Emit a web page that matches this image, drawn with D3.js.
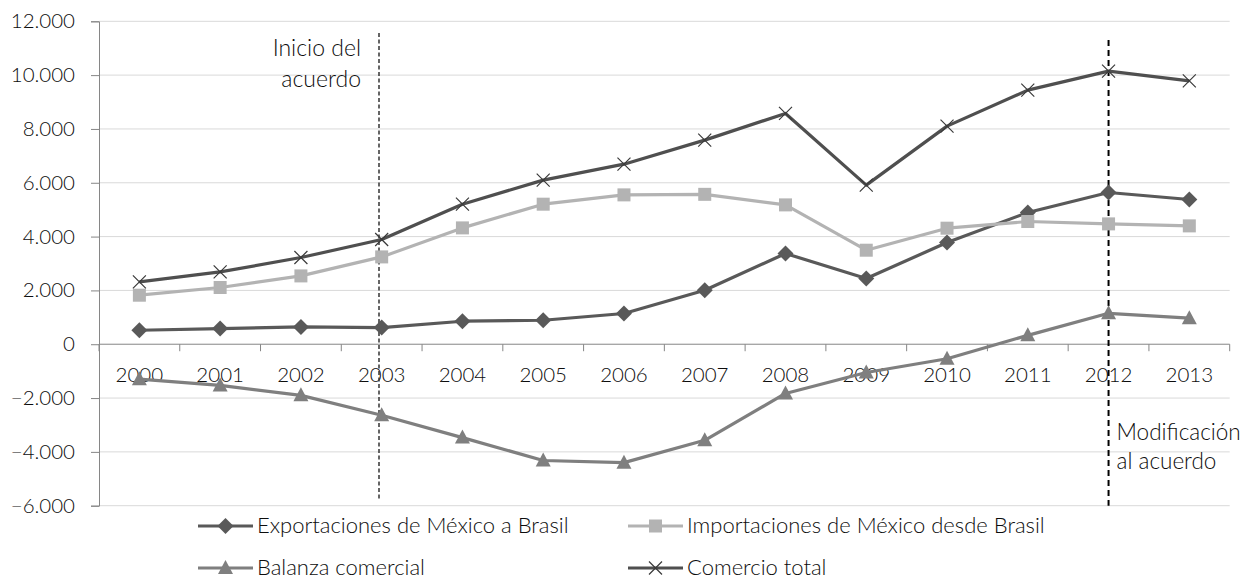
<!DOCTYPE html>
<html><head><meta charset="utf-8">
<script src="https://cdn.jsdelivr.net/npm/d3@7"></script>
<style>
html,body{margin:0;padding:0;background:#fff;}
svg text{font-family:"Lato","Open Sans",sans-serif;font-weight:300;fill:#0d0d0d;}
</style></head>
<body><svg id="c" width="1242" height="581"></svg>
<script>
const years = ["2000","2001","2002","2003","2004","2005","2006","2007","2008","2009","2010","2011","2012","2013"];
const exportaciones = [520,583,643,620,855,892,1141,2007,3372,2442,3780,4895,5639,5379];
const importaciones = [1822,2108,2539,3245,4323,5204,5550,5570,5178,3494,4312,4560,4472,4398];
const balanza = [-1300,-1530,-1900,-2640,-3470,-4320,-4400,-3570,-1830,-1050,-540,330,1150,970];
const comercioTotal = [2316,2688,3222,3892,5204,6097,6691,7584,8576,5911,8104,9442,10149,9788];
const yTicks = [-6000,-4000,-2000,0,2000,4000,6000,8000,10000,12000];
const seriesNames = ["Exportaciones de México a Brasil","Importaciones de México desde Brasil","Balanza comercial","Comercio total"];

const svg = d3.select("#c");
const L = 99, R = 1229.7, T = 21.3, B = 505.7;
const x = d3.scaleBand().domain(years).range([L, R]);
const y = d3.scaleLinear().domain([-6000, 12000]).range([B, T]);
const fmt = v => v === 0 ? "0" : d3.format(",")(v).replace(/,/g, ".");

// gridlines
svg.append("g").selectAll("line").data(yTicks.filter(v => v !== 0)).join("line")
  .attr("x1", L).attr("x2", R).attr("y1", d => y(d)).attr("y2", d => y(d))
  .attr("stroke", "#d9d9d9").attr("stroke-width", 1);

// y axis
const yAxis = d3.axisLeft(y).tickValues(yTicks).tickSize(8).tickPadding(16).tickFormat(fmt);
const gy = svg.append("g").attr("transform", `translate(${L},0)`).call(yAxis);
gy.select(".domain").attr("stroke", "#868686");
gy.selectAll(".tick line").attr("stroke", "#868686");
gy.selectAll(".tick text").attr("font-size", 20.5).style("font-family", "Lato, 'Open Sans', sans-serif")
  .style("font-weight", 300).attr("fill", "#0d0d0d");

// x axis at zero
const x0 = y(0);
svg.append("line").attr("x1", L).attr("x2", R).attr("y1", x0).attr("y2", x0).attr("stroke", "#868686");
const bounds = years.map(d => x(d)).concat([R]);
svg.append("g").selectAll("line").data(bounds).join("line")
  .attr("x1", d => d).attr("x2", d => d).attr("y1", x0).attr("y2", x0 + 7).attr("stroke", "#868686");
svg.append("g").selectAll("text").data(years).join("text")
  .attr("x", d => x(d) + x.bandwidth() / 2).attr("y", x0 + 38)
  .attr("text-anchor", "middle").attr("font-size", 20.5).text(d => d);

// vertical reference lines
svg.append("line").attr("x1", 379).attr("x2", 379).attr("y1", 33).attr("y2", 500)
  .attr("stroke", "#333").attr("stroke-width", 1.5).attr("stroke-dasharray", "4,2.5");
const x2012 = x("2012") + x.bandwidth() / 2;
svg.append("line").attr("x1", x2012).attr("x2", x2012).attr("y1", 40).attr("y2", B)
  .attr("stroke", "#000").attr("stroke-width", 2).attr("stroke-dasharray", "6,4");

// annotations
svg.append("text").attr("x", 361).attr("y", 56).attr("text-anchor", "end").attr("font-size", 23).text("Inicio del");
svg.append("text").attr("x", 361).attr("y", 87).attr("text-anchor", "end").attr("font-size", 23).text("acuerdo");
svg.append("text").attr("x", x2012 + 8).attr("y", 440).attr("font-size", 22.5).text("Modificación");
svg.append("text").attr("x", x2012 + 8).attr("y", 469).attr("font-size", 22.5).text("al acuerdo");

const series = [
  {name: seriesNames[0], values: exportaciones, color: "#595959", marker: "diamond"},
  {name: seriesNames[1], values: importaciones, color: "#b3b3b3", marker: "square"},
  {name: seriesNames[2], values: balanza, color: "#7f7f7f", marker: "triangle"},
  {name: seriesNames[3], values: comercioTotal, color: "#4f4f4f", marker: "x"}
];

function drawMarker(g, type, color, cx, cy) {
  if (type === "diamond") {
    g.append("path").attr("d", `M${cx},${cy-8}L${cx+8},${cy}L${cx},${cy+8}L${cx-8},${cy}Z`).attr("fill", color);
  } else if (type === "square") {
    g.append("rect").attr("x", cx-6.5).attr("y", cy-6.5).attr("width", 13).attr("height", 13).attr("fill", color);
  } else if (type === "triangle") {
    g.append("path").attr("d", `M${cx},${cy-8}L${cx+7.5},${cy+6}L${cx-7.5},${cy+6}Z`).attr("fill", color);
  } else {
    g.append("path").attr("d", `M${cx-6.5},${cy-6.5}L${cx+6.5},${cy+6.5}M${cx-6.5},${cy+6.5}L${cx+6.5},${cy-6.5}`)
      .attr("stroke", "#3a3a3a").attr("stroke-width", 1.2).attr("fill", "none");
  }
}

const line = d3.line().x((d, i) => x(years[i]) + x.bandwidth() / 2).y(d => y(d));
series.forEach(s => {
  const g = svg.append("g");
  g.append("path").datum(s.values).attr("d", line).attr("fill", "none")
    .attr("stroke", s.color).attr("stroke-width", 3.2).attr("stroke-linejoin", "round");
  s.values.forEach((v, i) => drawMarker(g, s.marker, s.color, x(years[i]) + x.bandwidth() / 2, y(v)));
});

// legend
const legendPos = [[198, 526], [628, 526], [198, 568], [628, 568]];
series.forEach((s, i) => {
  const [lx, ly] = legendPos[i];
  const g = svg.append("g");
  g.append("line").attr("x1", lx).attr("x2", lx + 55).attr("y1", ly).attr("y2", ly)
    .attr("stroke", s.color).attr("stroke-width", 3.2);
  drawMarker(g, s.marker, s.color, lx + 27.5, ly);
  g.append("text").attr("x", lx + 59).attr("y", ly + 7).attr("font-size", 22).text(s.name);
});
</script></body></html>
